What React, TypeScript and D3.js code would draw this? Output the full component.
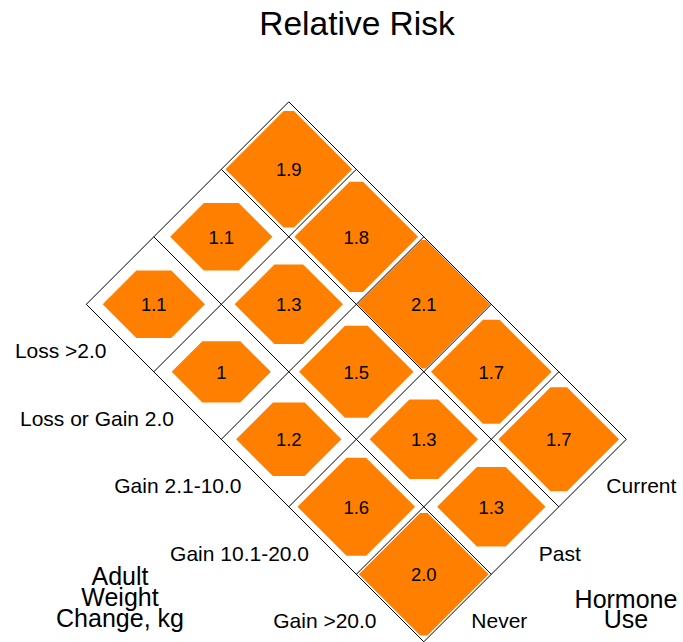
import React from "react";
import * as d3 from "d3";

const weightCats = ["Loss >2.0", "Loss or Gain 2.0", "Gain 2.1-10.0", "Gain 10.1-20.0", "Gain >20.0"];
const hormoneCats = ["Never", "Past", "Current"];
// relative risk labels per hormone group, ordered by weight category
const neverRR = ["1.1", "1", "1.2", "1.6", "2.0"];
const pastRR = ["1.1", "1.3", "1.5", "1.3", "1.3"];
const currentRR = ["1.9", "1.8", "2.1", "1.7", "1.7"];
const title = "Relative Risk";
const weightTitle = ["Adult", "Weight", "Change, kg"];
const hormoneTitle = ["Hormone", "Use"];

const W = 683;
const H = 642;
const FONT = "'Liberation Sans', Arial, Helvetica, sans-serif";
const ORANGE = "#ff8000";

export default function App() {
  const D = 67.5; // diagonal step per cell
  const origin = { x: 86.3, y: 304.3 }; // left vertex of the grid

  const u = d3.scaleBand<string>().domain(weightCats).range([0, weightCats.length * D]).padding(0);
  const v = d3.scaleBand<string>().domain(hormoneCats).range([0, hormoneCats.length * D]).padding(0);
  const toScreen = (uu: number, vv: number) => [origin.x + uu + vv, origin.y + uu - vv];

  const series = [neverRR, pastRR, currentRR];
  const vmax = d3.max(series.flat().map(Number)) as number;
  const halfH = d3.scaleLinear().domain([0, vmax]).range([0, 64.3]);
  const area = d3.scaleLinear().domain([0, vmax]).range([0, 8820]);

  const cells: { cx: number; cy: number; val: number; label: string; key: string }[] = [];
  hormoneCats.forEach((h, hi) => {
    weightCats.forEach((w, wi) => {
      const label = series[hi][wi];
      const [cx, cy] = toScreen((u(w) as number) + u.bandwidth() / 2, (v(h) as number) + v.bandwidth() / 2);
      cells.push({ cx, cy, val: +label, label, key: h + w });
    });
  });

  const shapePath = (cx: number, cy: number, val: number) => {
    const hh = halfH(val);
    const A = area(val);
    // area of clipped diamond: 4*a*h - 2*h^2 = A
    let a = (A + 2 * hh * hh) / (4 * hh);
    a = Math.min(a, D);
    const h2 = Math.min(hh, a);
    const pts: [number, number][] = [
      [cx - a, cy],
      [cx - (a - h2), cy - h2],
      [cx + (a - h2), cy - h2],
      [cx + a, cy],
      [cx + (a - h2), cy + h2],
      [cx - (a - h2), cy + h2],
    ];
    return d3.line()(pts.concat([pts[0]])) + "Z";
  };

  const lines: [number, number, number, number][] = [];
  const uTicks = d3.range(weightCats.length + 1).map((i) => i * u.step());
  const vTicks = d3.range(hormoneCats.length + 1).map((j) => j * v.step());
  uTicks.forEach((uu) => {
    const [x1, y1] = toScreen(uu, 0);
    const [x2, y2] = toScreen(uu, v.range()[1]);
    lines.push([x1, y1, x2, y2]);
  });
  vTicks.forEach((vv) => {
    const [x1, y1] = toScreen(0, vv);
    const [x2, y2] = toScreen(u.range()[1], vv);
    lines.push([x1, y1, x2, y2]);
  });

  return (
    <svg width={W} height={H} style={{ position: "absolute", left: 0, top: 0, background: "#fff" }} fontFamily={FONT}>
      <rect width={W} height={H} fill="#fff" />
      <text x={357} y={35} fontSize={33.5} textAnchor="middle" fill="#000">{title}</text>
      {cells.map((c) => (
        <path key={"s" + c.key} d={shapePath(c.cx, c.cy, c.val)} fill={ORANGE} />
      ))}
      {lines.map((l, i) => (
        <line key={"l" + i} x1={l[0]} y1={l[1]} x2={l[2]} y2={l[3]} stroke="#000" strokeWidth={1} />
      ))}
      {cells.map((c) => (
        <text key={"t" + c.key} x={c.cx} y={c.cy + 7} fontSize={18.5} textAnchor="middle" fill="#000">{c.label}</text>
      ))}
      {weightCats.map((w) => {
        const [x, y] = toScreen((u(w) as number) + u.bandwidth() / 2, 0);
        return (
          <text key={"w" + w} x={x - 13.5} y={y + 20.3} fontSize={21} textAnchor="end" fill="#000">{w}</text>
        );
      })}
      {hormoneCats.map((h) => {
        const [x, y] = toScreen(u.range()[1], (v(h) as number) + v.bandwidth() / 2);
        return (
          <text key={"h" + h} x={x + 13.8} y={y + 20.1} fontSize={21} textAnchor="start" fill="#000">{h}</text>
        );
      })}
      {weightTitle.map((t, i) => (
        <text key={"wt" + i} x={120} y={585 + i * 21.2} fontSize={25} textAnchor="middle" fill="#000">{t}</text>
      ))}
      {hormoneTitle.map((t, i) => (
        <text key={"ht" + i} x={626} y={608 + i * 19.5} fontSize={25} textAnchor="middle" fill="#000">{t}</text>
      ))}
    </svg>
  );
}
